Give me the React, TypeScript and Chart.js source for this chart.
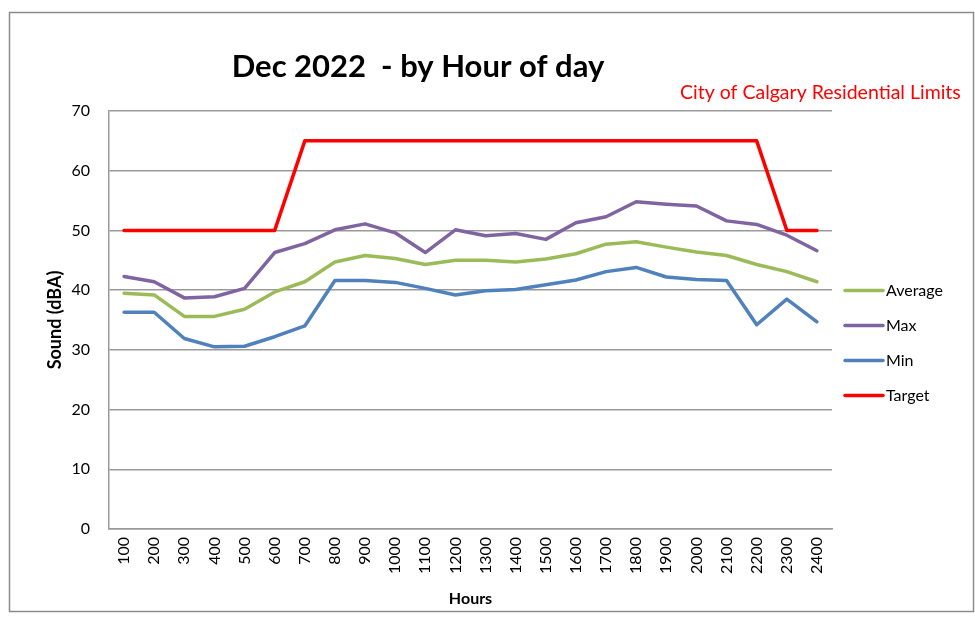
import React, { useEffect, useRef } from 'react';
import { Chart, registerables } from 'chart.js';

Chart.register(...registerables);

const hours = ['100', '200', '300', '400', '500', '600', '700', '800', '900', '1000', '1100', '1200',
  '1300', '1400', '1500', '1600', '1700', '1800', '1900', '2000', '2100', '2200', '2300', '2400'];

const averageValues = [39.5, 39.2, 35.6, 35.6, 36.8, 39.7, 41.4, 44.7, 45.8, 45.3, 44.3, 45.0,
  45.0, 44.7, 45.2, 46.1, 47.7, 48.1, 47.2, 46.4, 45.8, 44.3, 43.1, 41.4];

const maxValues = [42.3, 41.4, 38.7, 38.9, 40.3, 46.3, 47.8, 50.1, 51.1, 49.6, 46.3, 50.1,
  49.1, 49.5, 48.5, 51.3, 52.3, 54.8, 54.4, 54.1, 51.6, 51.0, 49.2, 46.6];

const minValues = [36.3, 36.3, 31.9, 30.5, 30.6, 32.2, 34.0, 41.6, 41.6, 41.3, 40.3, 39.2,
  39.9, 40.1, 40.9, 41.7, 43.1, 43.8, 42.2, 41.8, 41.6, 34.2, 38.5, 34.7];

const targetValues = [50, 50, 50, 50, 50, 50, 65, 65, 65, 65, 65, 65,
  65, 65, 65, 65, 65, 65, 65, 65, 65, 65, 50, 50];

const seriesNames = ['Average', 'Max', 'Min', 'Target'];
const seriesColors = ['#9bbb59', '#8064a2', '#4f81bd', '#ff0000'];

const CHART_TITLE = 'Dec 2022  - by Hour of day';
const NOTE_TEXT = 'City of Calgary Residential Limits';
const Y_TITLE = 'Sound (dBA)';
const X_TITLE = 'Hours';

const FONT = 'Lato';

const decorPlugin = {
  id: 'decor',
  beforeDraw(chart: any) {
    const ctx = chart.ctx;
    ctx.save();
    ctx.fillStyle = '#ffffff';
    ctx.fillRect(0, 0, chart.width, chart.height);
    ctx.restore();
  },
  afterDraw(chart: any) {
    const ctx = chart.ctx;
    const area = chart.chartArea;
    ctx.save();
    // outer frame
    ctx.strokeStyle = '#8c8c8c';
    ctx.lineWidth = 1.5;
    ctx.strokeRect(9.5, 12.5, 964, 599);
    // title
    ctx.fillStyle = '#000000';
    ctx.font = `bold 31px ${FONT}`;
    ctx.textAlign = 'center';
    ctx.textBaseline = 'alphabetic';
    ctx.fillText(CHART_TITLE, 418, 77);
    // note
    ctx.fillStyle = '#ff0000';
    ctx.font = `19.5px ${FONT}`;
    ctx.textAlign = 'left';
    ctx.fillText(NOTE_TEXT, 680, 99);
    // legend
    ctx.font = `16px ${FONT}`;
    ctx.textBaseline = 'middle';
    chart.data.datasets.forEach((ds: any, i: number) => {
      const y = area.top + 179.5 + i * 35;
      const x0 = area.right + 13;
      ctx.strokeStyle = ds.borderColor;
      ctx.lineWidth = 3.5;
      ctx.lineCap = 'round';
      ctx.beginPath();
      ctx.moveTo(x0, y);
      ctx.lineTo(x0 + 38, y);
      ctx.stroke();
      ctx.fillStyle = '#000000';
      ctx.fillText(ds.label, x0 + 41, y);
    });
    ctx.restore();
  },
};

export default function App() {
  const canvasRef = useRef<HTMLCanvasElement | null>(null);

  useEffect(() => {
    if (!canvasRef.current) return;
    Chart.defaults.font.family = FONT;
    const valueSets = [averageValues, maxValues, minValues, targetValues];
    const chart = new Chart(canvasRef.current, {
      type: 'line',
      data: {
        labels: hours,
        datasets: valueSets.map((vals, i) => ({
          label: seriesNames[i],
          data: vals,
          borderColor: seriesColors[i],
          backgroundColor: seriesColors[i],
          borderWidth: 3.5,
          pointRadius: 0,
          pointHoverRadius: 0,
          tension: 0,
          fill: false,
          borderCapStyle: 'round',
          borderJoinStyle: 'round',
        })),
      },
      options: {
        responsive: false,
        animation: false,
        events: [],
        layout: { padding: { left: 0, top: 111, right: 143, bottom: 0 } },
        plugins: {
          legend: { display: false },
          title: { display: false },
          tooltip: { enabled: false },
        },
        scales: {
          x: {
            offset: true,
            grid: { display: false, drawTicks: false },
            border: { display: true, color: '#9a9a9a', width: 1.5 },
            ticks: {
              autoSkip: false,
              minRotation: 90,
              maxRotation: 90,
              padding: 8,
              color: '#000000',
              font: { family: FONT, size: 16 },
            },
            title: {
              display: true,
              text: X_TITLE,
              color: '#000000',
              font: { family: FONT, size: 16, weight: 'bold' },
              padding: { top: 0, bottom: 9 },
            },
            afterFit(scale: any) { scale.height = 88; },
          },
          y: {
            min: 0,
            max: 70,
            ticks: {
              stepSize: 10,
              padding: 19,
              color: '#000000',
              font: { family: FONT, size: 16 },
            },
            grid: { color: '#9a9a9a', lineWidth: 1.5, drawTicks: false },
            border: { display: true, color: '#9a9a9a', width: 1.5 },
            title: {
              display: true,
              text: Y_TITLE,
              color: '#000000',
              font: { family: FONT, size: 18, weight: 'bold' },
              padding: { top: 44, bottom: 0 },
            },
            afterFit(scale: any) { scale.width = 109; },
          },
        },
      },
      plugins: [decorPlugin],
    } as any);
    return () => chart.destroy();
  }, []);

  return (
    <div style={{ position: 'absolute', left: 0, top: 0, width: 975, height: 617, background: '#fff' }}>
      <canvas ref={canvasRef} width={975} height={617} style={{ display: 'block' }} />
    </div>
  );
}
